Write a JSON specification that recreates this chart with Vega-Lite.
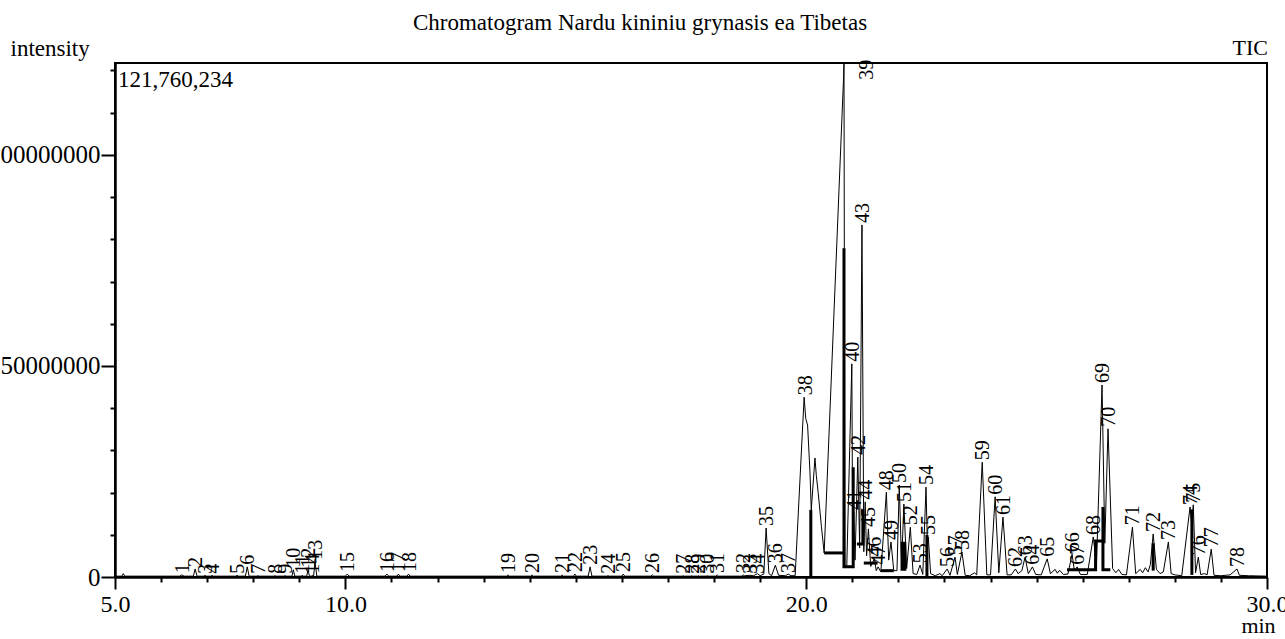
{
  "$schema": "https://vega.github.io/schema/vega-lite/v6.json",
  "autosize": {"type": "none"},
  "width": 1152,
  "height": 514,
  "padding": {"left": 115, "top": 63, "right": 18, "bottom": 62},
  "background": "white",
  "config": {
    "font": "Liberation Serif",
    "view": {"stroke": "black", "strokeWidth": 2},
    "title": {"font": "Liberation Serif", "fontSize": 23, "fontWeight": "normal", "color": "black", "anchor": "middle", "dx": -51, "offset": 2}
  },
  "title": "Chromatogram Nardu kininiu grynasis ea Tibetas",
  "datasets": {
    "trace": [
      {"t":5.0,"v":200000},{"t":5.15,"v":200000},{"t":5.18,"v":800000},{"t":5.21,"v":200000},
      {"t":6.40,"v":200000},{"t":6.45,"v":500000},{"t":6.50,"v":200000},
      {"t":6.70,"v":200000},{"t":6.74,"v":1900000},{"t":6.78,"v":200000},
      {"t":6.93,"v":200000},{"t":6.95,"v":400000},{"t":6.98,"v":200000},
      {"t":7.08,"v":200000},{"t":7.10,"v":400000},{"t":7.13,"v":200000},
      {"t":7.62,"v":200000},{"t":7.65,"v":400000},{"t":7.68,"v":200000},
      {"t":7.83,"v":200000},{"t":7.87,"v":2400000},{"t":7.91,"v":200000},
      {"t":8.07,"v":200000},{"t":8.10,"v":300000},{"t":8.13,"v":200000},
      {"t":8.45,"v":200000},{"t":8.47,"v":300000},{"t":8.50,"v":200000},
      {"t":8.66,"v":200000},{"t":8.69,"v":300000},{"t":8.72,"v":200000},
      {"t":8.84,"v":200000},{"t":8.87,"v":1700000},{"t":8.90,"v":200000},
      {"t":9.04,"v":200000},{"t":9.06,"v":400000},{"t":9.09,"v":200000},
      {"t":9.16,"v":200000},{"t":9.19,"v":1700000},{"t":9.22,"v":200000},
      {"t":9.26,"v":200000},{"t":9.28,"v":400000},{"t":9.31,"v":200000},
      {"t":9.34,"v":3600000},{"t":9.38,"v":200000},
      {"t":10.00,"v":200000},{"t":10.04,"v":700000},{"t":10.08,"v":200000},
      {"t":10.86,"v":200000},{"t":10.90,"v":700000},{"t":10.94,"v":200000},
      {"t":11.12,"v":200000},{"t":11.15,"v":700000},{"t":11.18,"v":200000},
      {"t":11.34,"v":200000},{"t":11.37,"v":700000},{"t":11.40,"v":200000},
      {"t":13.50,"v":200000},{"t":13.53,"v":500000},{"t":13.56,"v":200000},
      {"t":14.02,"v":200000},{"t":14.05,"v":500000},{"t":14.08,"v":200000},
      {"t":14.67,"v":200000},{"t":14.70,"v":500000},{"t":14.73,"v":200000},
      {"t":14.95,"v":200000},{"t":14.98,"v":700000},{"t":15.01,"v":200000},
      {"t":15.27,"v":200000},{"t":15.31,"v":2400000},{"t":15.35,"v":200000},
      {"t":15.67,"v":200000},{"t":15.70,"v":300000},{"t":15.73,"v":200000},
      {"t":16.00,"v":200000},{"t":16.03,"v":700000},{"t":16.06,"v":200000},
      {"t":16.63,"v":200000},{"t":16.66,"v":500000},{"t":16.69,"v":200000},
      {"t":17.31,"v":200000},{"t":17.33,"v":300000},{"t":17.35,"v":200000},
      {"t":17.50,"v":200000},{"t":17.52,"v":300000},{"t":17.54,"v":200000},
      {"t":17.64,"v":200000},{"t":17.66,"v":300000},{"t":17.68,"v":200000},
      {"t":17.83,"v":200000},{"t":17.85,"v":300000},{"t":17.87,"v":200000},
      {"t":18.04,"v":200000},{"t":18.07,"v":500000},{"t":18.10,"v":200000},
      {"t":18.60,"v":200000},{"t":18.63,"v":500000},{"t":18.66,"v":300000},
      {"t":18.78,"v":400000},{"t":18.86,"v":300000},{"t":18.94,"v":800000},
      {"t":19.00,"v":300000},{"t":19.08,"v":700000},{"t":19.13,"v":11600000},{"t":19.19,"v":800000},
      {"t":19.25,"v":300000},{"t":19.33,"v":2800000},{"t":19.40,"v":400000},
      {"t":19.55,"v":300000},{"t":19.61,"v":700000},{"t":19.67,"v":300000},
      {"t":19.76,"v":300000},{"t":19.955,"v":42600000},{"t":19.99,"v":37500000},{"t":20.03,"v":36000000},
      {"t":20.08,"v":25300000},{"t":20.11,"v":15900000},{"t":20.19,"v":28200000},{"t":20.22,"v":24000000},
      {"t":20.26,"v":20000000},{"t":20.33,"v":12000000},{"t":20.39,"v":5700000},
      {"t":20.81,"v":118000000},{"t":20.82,"v":121760234},{"t":20.84,"v":2400000},{"t":20.88,"v":2400000},
      {"t":20.99,"v":50500000},{"t":21.01,"v":5000000},{"t":21.03,"v":15400000},{"t":21.06,"v":4000000},
      {"t":21.12,"v":28400000},{"t":21.16,"v":6900000},{"t":21.21,"v":83400000},{"t":21.25,"v":6000000},
      {"t":21.28,"v":17800000},{"t":21.31,"v":5000000},{"t":21.35,"v":11400000},{"t":21.40,"v":2500000},
      {"t":21.48,"v":4300000},{"t":21.52,"v":1500000},{"t":21.56,"v":2400000},{"t":21.62,"v":1200000},
      {"t":21.74,"v":20100000},{"t":21.79,"v":4000000},{"t":21.84,"v":8300000},{"t":21.90,"v":1500000},
      {"t":21.97,"v":1500000},{"t":22.02,"v":21800000},{"t":22.07,"v":3000000},{"t":22.12,"v":17300000},
      {"t":22.18,"v":2000000},{"t":22.26,"v":11800000},{"t":22.32,"v":800000},{"t":22.40,"v":600000},
      {"t":22.47,"v":2800000},{"t":22.53,"v":600000},{"t":22.60,"v":21300000},{"t":22.63,"v":8000000},
      {"t":22.65,"v":9500000},{"t":22.70,"v":800000},{"t":22.80,"v":300000},{"t":22.90,"v":800000},
      {"t":22.95,"v":300000},{"t":23.06,"v":1900000},{"t":23.12,"v":400000},{"t":23.23,"v":4700000},
      {"t":23.28,"v":600000},{"t":23.38,"v":5900000},{"t":23.45,"v":400000},{"t":23.55,"v":300000},
      {"t":23.65,"v":1000000},{"t":23.70,"v":500000},{"t":23.82,"v":27200000},{"t":23.92,"v":500000},
      {"t":24.00,"v":500000},{"t":24.10,"v":19000000},{"t":24.18,"v":1000000},{"t":24.27,"v":14200000},
      {"t":24.36,"v":500000},{"t":24.45,"v":500000},{"t":24.54,"v":1900000},{"t":24.60,"v":800000},
      {"t":24.68,"v":1500000},{"t":24.75,"v":4700000},{"t":24.82,"v":800000},{"t":24.91,"v":2400000},
      {"t":24.98,"v":600000},{"t":25.10,"v":500000},{"t":25.23,"v":4300000},{"t":25.30,"v":800000},
      {"t":25.40,"v":1800000},{"t":25.45,"v":900000},{"t":25.50,"v":1600000},{"t":25.58,"v":600000},
      {"t":25.68,"v":700000},{"t":25.77,"v":5400000},{"t":25.82,"v":1500000},{"t":25.88,"v":2400000},
      {"t":25.95,"v":600000},{"t":26.10,"v":600000},{"t":26.23,"v":9500000},{"t":26.30,"v":3000000},
      {"t":26.42,"v":45500000},{"t":26.48,"v":8000000},{"t":26.55,"v":35100000},{"t":26.65,"v":2000000},
      {"t":26.72,"v":1000000},{"t":26.78,"v":1800000},{"t":26.85,"v":600000},{"t":26.95,"v":500000},
      {"t":27.08,"v":11800000},{"t":27.15,"v":800000},{"t":27.25,"v":1800000},{"t":27.30,"v":1000000},
      {"t":27.36,"v":2200000},{"t":27.42,"v":1200000},{"t":27.47,"v":3000000},{"t":27.53,"v":10200000},
      {"t":27.60,"v":1800000},{"t":27.68,"v":800000},{"t":27.75,"v":1200000},{"t":27.86,"v":8300000},
      {"t":27.92,"v":800000},{"t":28.00,"v":500000},{"t":28.15,"v":300000},{"t":28.33,"v":16600000},
      {"t":28.37,"v":12000000},{"t":28.40,"v":17100000},{"t":28.45,"v":1000000},{"t":28.51,"v":4700000},
      {"t":28.56,"v":600000},{"t":28.65,"v":800000},{"t":28.70,"v":500000},{"t":28.79,"v":6600000},
      {"t":28.85,"v":400000},{"t":29.00,"v":300000},{"t":29.20,"v":500000},{"t":29.35,"v":1900000},
      {"t":29.40,"v":400000},{"t":29.60,"v":300000},{"t":30.00,"v":200000}
    ],
    "base": [
      {"seg":"a","t":20.10,"v":0},{"seg":"a","t":20.10,"v":15900000},
      {"seg":"b","t":20.39,"v":5700000},{"seg":"b","t":20.82,"v":5700000},
      {"seg":"c","t":20.82,"v":77900000},{"seg":"c","t":20.82,"v":2400000},{"seg":"c","t":21.02,"v":2400000},{"seg":"c","t":21.02,"v":26000000},
      {"seg":"d","t":21.10,"v":7800000},{"seg":"d","t":21.23,"v":7800000},{"seg":"d","t":21.23,"v":16000000},
      {"seg":"e","t":21.25,"v":3300000},{"seg":"e","t":21.55,"v":3300000},
      {"seg":"f","t":21.62,"v":1500000},{"seg":"f","t":21.90,"v":1500000},
      {"seg":"g","t":22.08,"v":1500000},{"seg":"g","t":22.08,"v":8000000},{"seg":"g","t":22.14,"v":8000000},{"seg":"g","t":22.14,"v":1500000},
      {"seg":"h","t":22.62,"v":0},{"seg":"h","t":22.62,"v":10000000},
      {"seg":"i","t":25.66,"v":1700000},{"seg":"i","t":26.28,"v":1700000},{"seg":"i","t":26.28,"v":8500000},{"seg":"i","t":26.44,"v":8500000},{"seg":"i","t":26.44,"v":16600000},{"seg":"i","t":26.44,"v":1700000},{"seg":"i","t":26.60,"v":1700000},
      {"seg":"j","t":27.53,"v":1500000},{"seg":"j","t":27.53,"v":8000000},
      {"seg":"k","t":28.37,"v":500000},{"seg":"k","t":28.37,"v":16000000}
    ],
    "peaks": [
      {"pk":"1","t":6.45,"h":400000},{"pk":"2","t":6.74,"h":1900000},{"pk":"3","t":6.95,"h":300000},{"pk":"4","t":7.10,"h":300000},
      {"pk":"5","t":7.65,"h":300000},{"pk":"6","t":7.87,"h":2400000},{"pk":"7","t":8.10,"h":300000},{"pk":"8","t":8.47,"h":300000},
      {"pk":"9","t":8.69,"h":300000},{"pk":"10","t":8.87,"h":1700000},{"pk":"11","t":9.06,"h":300000},{"pk":"12","t":9.19,"h":1700000},
      {"pk":"13","t":9.34,"h":3600000},{"pk":"14","t":9.28,"h":300000},{"pk":"15","t":10.04,"h":700000},{"pk":"16","t":10.90,"h":700000},
      {"pk":"17","t":11.15,"h":700000},{"pk":"18","t":11.37,"h":700000},{"pk":"19","t":13.53,"h":500000},{"pk":"20","t":14.05,"h":500000},
      {"pk":"21","t":14.70,"h":500000},{"pk":"22","t":14.98,"h":700000},{"pk":"23","t":15.31,"h":2400000},{"pk":"24","t":15.70,"h":300000},
      {"pk":"25","t":16.03,"h":700000},{"pk":"26","t":16.66,"h":500000},{"pk":"27","t":17.33,"h":300000},{"pk":"28","t":17.52,"h":300000},
      {"pk":"29","t":17.66,"h":300000},{"pk":"30","t":17.85,"h":300000},{"pk":"31","t":18.07,"h":500000},{"pk":"32","t":18.63,"h":500000},
      {"pk":"33","t":18.78,"h":300000},{"pk":"34","t":18.94,"h":300000},{"pk":"35","t":19.13,"h":11600000},{"pk":"36","t":19.33,"h":2800000},
      {"pk":"37","t":19.61,"h":500000},{"pk":"38","t":19.98,"h":42600000},{"pk":"39","t":21.30,"h":117300000},{"pk":"40","t":21.00,"h":50500000},
      {"pk":"41","t":21.03,"h":15400000},{"pk":"42","t":21.13,"h":28400000},{"pk":"43","t":21.21,"h":83400000},{"pk":"44","t":21.28,"h":17800000},
      {"pk":"45","t":21.35,"h":11400000},{"pk":"46","t":21.48,"h":4300000},{"pk":"47","t":21.56,"h":2400000},{"pk":"48","t":21.74,"h":20100000},
      {"pk":"49","t":21.84,"h":8300000},{"pk":"50","t":22.02,"h":21800000},{"pk":"51","t":22.12,"h":17300000},{"pk":"52","t":22.26,"h":11800000},
      {"pk":"53","t":22.47,"h":2800000},{"pk":"54","t":22.60,"h":21300000},{"pk":"55","t":22.65,"h":9500000},{"pk":"56","t":23.06,"h":1900000},
      {"pk":"57","t":23.23,"h":4700000},{"pk":"58","t":23.38,"h":5900000},{"pk":"59","t":23.82,"h":27200000},{"pk":"60","t":24.10,"h":19000000},
      {"pk":"61","t":24.27,"h":14200000},{"pk":"62","t":24.54,"h":1900000},{"pk":"63","t":24.75,"h":4700000},{"pk":"64","t":24.91,"h":2400000},
      {"pk":"65","t":25.23,"h":4300000},{"pk":"66","t":25.77,"h":5400000},{"pk":"67","t":25.88,"h":2400000},{"pk":"68","t":26.23,"h":9500000},
      {"pk":"69","t":26.42,"h":45500000},{"pk":"70","t":26.55,"h":35100000},{"pk":"71","t":27.08,"h":11800000},{"pk":"72","t":27.53,"h":10200000},
      {"pk":"73","t":27.86,"h":8300000},{"pk":"74","t":28.33,"h":16600000},{"pk":"75","t":28.40,"h":17100000},{"pk":"76","t":28.51,"h":4700000},
      {"pk":"77","t":28.79,"h":6600000},{"pk":"78","t":29.35,"h":1900000}
    ]
  },
  "layer": [
    {
      "data": {"name": "trace"},
      "mark": {"type": "line", "stroke": "black", "strokeWidth": 1, "interpolate": "linear"},
      "encoding": {
        "x": {
          "field": "t", "type": "quantitative",
          "scale": {"domain": [5, 30], "nice": false, "zero": false},
          "axis": {
            "values": [5,6,7,8,9,10,11,12,13,14,15,16,17,18,19,20,21,22,23,24,25,26,27,28,29,30],
            "labelExpr": "(datum.value == 5 || datum.value == 10 || datum.value == 20 || datum.value == 30) ? format(datum.value, '.1f') : ''",
            "grid": false,
            "domainColor": "black", "domainWidth": 2.5,
            "tickColor": "black", "tickWidth": 2,
            "tickSize": {"condition": {"test": "datum.value == 5 || datum.value == 10 || datum.value == 20 || datum.value == 30", "value": 12}, "value": 5},
            "labelFont": "Liberation Serif", "labelFontSize": 24, "labelColor": "black",
            "labelPadding": 3, "labelFlush": false, "labelOverlap": false,
            "title": "min",
            "titleFont": "Liberation Serif", "titleFontSize": 22, "titleFontWeight": "normal", "titleColor": "black",
            "titleX": 1143, "titleY": 55, "titleAlign": "center", "titleBaseline": "alphabetic"
          }
        },
        "y": {
          "field": "v", "type": "quantitative",
          "scale": {"domain": [0, 121760234], "nice": false},
          "axis": {
            "values": [0,10000000,20000000,30000000,40000000,50000000,60000000,70000000,80000000,90000000,100000000,110000000,120000000],
            "labelExpr": "datum.value % 50000000 == 0 ? format(datum.value, 'd') : ''",
            "grid": false,
            "domainColor": "black", "domainWidth": 2.5,
            "tickColor": "black", "tickWidth": 2,
            "tickSize": {"condition": {"test": "datum.value % 50000000 == 0", "value": 14}, "value": 5},
            "labelFont": "Liberation Serif", "labelFontSize": 25, "labelColor": "black",
            "labelPadding": 1, "labelOverlap": false,
            "title": "intensity",
            "titleAngle": 0,
            "titleFont": "Liberation Serif", "titleFontSize": 23, "titleFontWeight": "normal", "titleColor": "black",
            "titleX": -105, "titleY": -8, "titleAlign": "left", "titleBaseline": "alphabetic"
          }
        },
        "order": {"value": null}
      }
    },
    {
      "data": {"name": "base"},
      "mark": {"type": "line", "stroke": "black", "strokeWidth": 3},
      "encoding": {
        "x": {"field": "t", "type": "quantitative"},
        "y": {"field": "v", "type": "quantitative"},
        "detail": {"field": "seg"},
        "order": {"value": null}
      }
    },
    {
      "data": {"name": "peaks"},
      "mark": {"type": "text", "angle": 270, "align": "left", "baseline": "middle", "dx": 2, "dy": 1, "font": "Liberation Serif", "fontSize": 20, "color": "black"},
      "encoding": {
        "x": {"field": "t", "type": "quantitative"},
        "y": {"field": "h", "type": "quantitative"},
        "text": {"field": "pk"}
      }
    },
    {
      "data": {"values": [{"t": 5, "v": 121760234, "s": "121,760,234"}]},
      "mark": {"type": "text", "align": "left", "baseline": "top", "dx": 3, "dy": 6, "font": "Liberation Serif", "fontSize": 23, "color": "black"},
      "encoding": {
        "x": {"field": "t", "type": "quantitative"},
        "y": {"field": "v", "type": "quantitative"},
        "text": {"field": "s"}
      }
    },
    {
      "data": {"values": [{"t": 30, "v": 121760234, "s": "TIC"}]},
      "mark": {"type": "text", "align": "right", "baseline": "alphabetic", "dx": 1, "dy": -8, "font": "Liberation Serif", "fontSize": 22, "color": "black"},
      "encoding": {
        "x": {"field": "t", "type": "quantitative"},
        "y": {"field": "v", "type": "quantitative"},
        "text": {"field": "s"}
      }
    }
  ]
}
